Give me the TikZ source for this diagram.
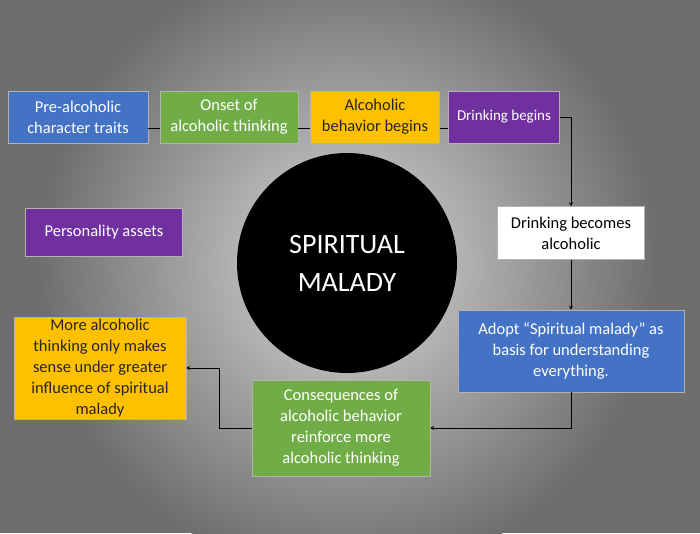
\documentclass[tikz,border=0pt]{standalone}
\usepackage{fontspec}
\setmainfont{Carlito}
\usetikzlibrary{positioning}
\definecolor{boxblue}{HTML}{4472C4}
\definecolor{boxgreen}{HTML}{70AD47}
\definecolor{boxgold}{HTML}{FFC000}
\definecolor{boxpurple}{HTML}{7030A0}
\begin{document}
\begin{tikzpicture}[x=1pt, y=-1pt, font=\fontsize{16.5}{21}\selectfont]
    % Define styles
    \tikzset{
      card/.style={rectangle, draw=gray!60, text centered, align=center, inner sep=2pt},
      bluecard/.style={card, fill=boxblue, text=white},
      greencard/.style={card, fill=boxgreen, text=white},
      goldcard/.style={card, fill=boxgold, text=black!85},
      purplecard/.style={card, fill=boxpurple, text=white},
      link/.style={black, thick},
      arrow/.style={link, ->, >=stealth}
    }
    % Background
    \useasboundingbox (0,0) rectangle (700,533);
    \begin{scope}
      \clip (0,0) rectangle (700,533);
      \fill[black!57] (0,0) rectangle (700,533);
      \shade[inner color=black!15, outer color=black!57] (347,265) circle (310);
    \end{scope}

    % Nodes
    \node[bluecard, minimum width=140pt, minimum height=52pt] (pre) at (78,117) {Pre-alcoholic\\character traits};
    \node[greencard, minimum width=138pt, minimum height=52pt] (onset) at (229,117) {Onset of\\alcoholic thinking};
    \node[goldcard, minimum width=129pt, minimum height=52pt] (behav) at (375,117) {Alcoholic\\behavior begins};
    \node[purplecard, minimum width=111pt, minimum height=52pt] (begins) at (504,117) {\fontsize{15}{17}\selectfont Drinking begins};
    \node[purplecard, minimum width=157pt, minimum height=48pt] (assets) at (104,232) {Personality assets};
    \node[circle, fill=black, minimum size=220pt, text=white, align=center, font=\fontsize{28}{38}\selectfont] (malady) at (347,263) {SPIRITUAL\\MALADY};
    \node[card, fill=white, minimum width=147pt, minimum height=53pt] (becomes) at (571,233) {Drinking becomes\\alcoholic};
    \node[bluecard, minimum width=226pt, minimum height=82pt] (adopt) at (571,351) {Adopt “Spiritual malady” as\\basis for understanding\\everything.};
    \node[greencard, minimum width=178pt, minimum height=96pt] (conseq) at (341,428) {Consequences of\\alcoholic behavior\\reinforce more\\alcoholic thinking};
    \node[goldcard, minimum width=172pt, minimum height=100pt] (more) at (100,368) {More alcoholic\\thinking only makes\\sense under greater\\influence of spiritual\\malady};

    % Connectors
    \draw[link] (pre.east |- 0,128) -- (onset.west |- 0,128);
    \draw[link] (onset.east |- 0,128) -- (behav.west |- 0,128);
    \draw[link] (behav.east |- 0,128) -- (begins.west |- 0,128);
    \draw[arrow] (begins.east) -| (becomes.north);
    \draw[arrow] (becomes.south) -- (adopt.north);
    \draw[arrow] (adopt.south) |- (conseq.east);
    \draw[arrow] (conseq.west) -- ++(-32,0) |- (more.east);
\end{tikzpicture}
\end{document}
